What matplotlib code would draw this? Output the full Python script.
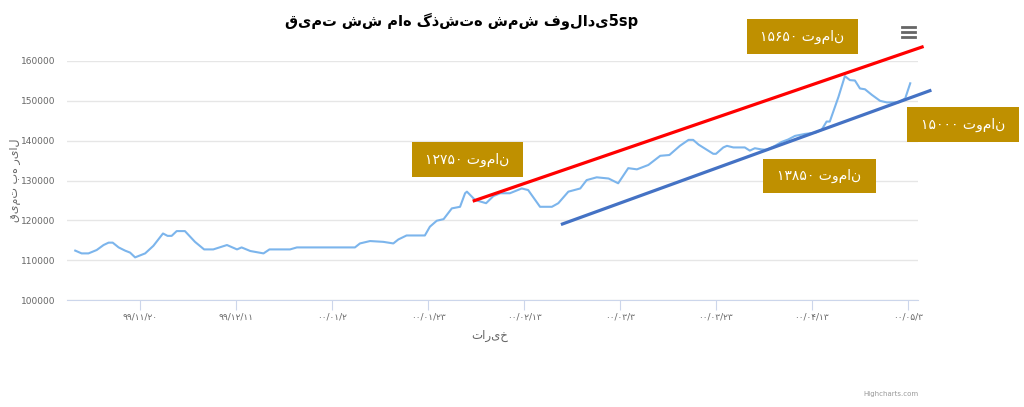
import matplotlib
matplotlib.use("Agg")
import matplotlib.pyplot as plt
from matplotlib.patches import Rectangle
from matplotlib.lines import Line2D

# days counted from 99/11/20, prices in rial
days = [-14.2, -12.8, -11.3, -9.5, -8.0, -6.9, -6.0, -4.7, -3.3, -2.2, -1.1, 1.1, 2.9,
        5.0, 6.0, 6.9, 8.0, 9.8, 12.0, 14.0, 16.0, 19.0, 21.2, 22.2, 24.1, 27.0, 28.3,
        32.8, 34.3, 47.0, 48.1, 50.3, 53.2, 55.4, 56.5, 58.3, 62.3, 63.4, 64.9, 66.4,
        68.2, 69.1, 70.0, 71.1, 71.5, 73.3, 75.7, 77.3, 78.8, 80.9, 83.5, 84.9, 87.5,
        90.1, 91.5, 93.7, 96.3, 97.7, 99.9, 102.5, 104.6, 106.8, 108.7, 111.2, 113.8,
        115.8, 118.1, 120.0, 121.0, 122.2, 125.4, 126.0, 127.6, 128.4, 129.8, 132.3,
        133.4, 134.5, 136.0, 137.1, 138.9, 140.4, 141.8, 143.3, 145.5, 147.7, 149.1,
        150.2, 150.9, 152.8, 154.2, 155.3, 156.4, 157.5, 158.6, 160.1, 161.9, 163.4,
        165.9, 167.4, 168.5]
prices = [112400, 111700, 111700, 112550, 113800, 114400, 114400, 113200, 112400, 111900,
          110700, 111700, 113600, 116700, 116100, 116100, 117300, 117300, 114600, 112700,
          112700, 113800, 112700, 113200, 112300, 111700, 112700, 112700, 113200, 113200,
          114200, 114800, 114600, 114200, 115200, 116200, 116200, 118400, 119900, 120300,
          123000, 123200, 123400, 126800, 127200, 125100, 124300, 126100, 126800, 126800,
          128000, 127600, 123400, 123400, 124300, 127200, 128000, 130100, 130800, 130500,
          129300, 133100, 132800, 133900, 136200, 136400, 138700, 140200, 140200, 139000,
          136700, 136700, 138300, 138700, 138300, 138300, 137500, 138100, 137800, 137700,
          138700, 139700, 140300, 141200, 141700, 142000, 142700, 144800, 144800, 151000,
          156200, 155200, 155100, 153100, 152900, 151500, 150000, 149600, 149600, 150600,
          154400]

tick_days = [0, 21, 42, 63, 84, 105, 126, 147, 168]
tick_labels = ["۹۹/۱۱/۲۰", "۹۹/۱۲/۱۱", "۰۰/۰۱/۲", "۰۰/۰۱/۲۳", "۰۰/۰۲/۱۳",
               "۰۰/۰۳/۳", "۰۰/۰۳/۲۳", "۰۰/۰۴/۱۳", "۰۰/۰۵/۳"]
y_ticks = [100000, 110000, 120000, 130000, 140000, 150000, 160000]

red_days = [73.1, 171.1]
red_prices = [124930, 163520]
blue_days = [92.4, 172.8]
blue_prices = [119080, 152550]

box_texts = ["۱۵۶۵۰ تومان", "۱۲۷۵۰ تومان", "۱۳۸۵۰ تومان", "۱۵۰۰۰ تومان"]

plt.rcParams['font.family'] = ['DejaVu Sans']
W, H = 1024, 407
fig = plt.figure(figsize=(W / 100, H / 100), dpi=100)
ax = fig.add_axes([67 / W, 1 - 300 / H, (918 - 67) / W, (300 - 61) / H])

ax.plot(days, prices, color='#7cb5ec', lw=1.5, zorder=3)
ax.plot(red_days, red_prices, color='#ff0000', lw=2.3, clip_on=False, zorder=4)
ax.plot(blue_days, blue_prices, color='#4472c4', lw=2.3, clip_on=False, zorder=4)

ax.set_xlim(-16, 170.2)
ax.set_ylim(100000, 160000)
ax.set_yticks(y_ticks)
ax.set_yticklabels([str(v) for v in y_ticks])
ax.set_xticks(tick_days)
ax.set_xticklabels(tick_labels)
ax.grid(axis='y', color='#e6e6e6', lw=1)
ax.set_axisbelow(True)
for side in ['top', 'right', 'left']:
    ax.spines[side].set_visible(False)
ax.spines['bottom'].set_color('#ccd6eb')
ax.tick_params(axis='y', length=0, labelsize=6.5, labelcolor='#666666', pad=8.5)
ax.tick_params(axis='x', length=7, color='#ccd6eb', labelsize=6.5, labelcolor='#666666', pad=2)

ax.set_xlabel("تاریخ", fontsize=8.5, color='#666666')
ax.set_ylabel("قیمت به ریال", fontsize=8, color='#666666')
ax.xaxis.set_label_coords((490 - 67) / 851, (300 - 329) / 239)
ax.yaxis.set_label_coords((21 - 67) / 851, 0.5)

fig.text(462 / W, 1 - 22 / H, "قیمت شش ماه گذشته شمش فولادی5sp", ha='center', va='center',
         fontsize=10.5, fontweight='bold', color='#000000')

# price boxes (pixel positions of the boxes)
boxes = [(747, 19, 858, 54), (412, 142, 523, 177), (763, 159, 876, 193), (907, 107, 1019, 142)]
for (x0, y0, x1, y1), t in zip(boxes, box_texts):
    fig.add_artist(Rectangle((x0 / W, 1 - y1 / H), (x1 - x0) / W, (y1 - y0) / H,
                             transform=fig.transFigure, facecolor='#bf9000', edgecolor='none', zorder=5))
    fig.text((x0 + x1) / 2 / W, 1 - (y0 + y1) / 2 / H, t, ha='center', va='center',
             fontsize=10, color='white', zorder=6)

# menu icon
for yy in [27, 32, 37]:
    fig.add_artist(Line2D([902 / W, 915 / W], [1 - yy / H, 1 - yy / H], color='#666666', lw=2))

fig.text(918 / W, 1 - 394 / H, "Highcharts.com", ha='right', va='center', fontsize=5, color='#999999')

fig.savefig('out.png', dpi=100)
